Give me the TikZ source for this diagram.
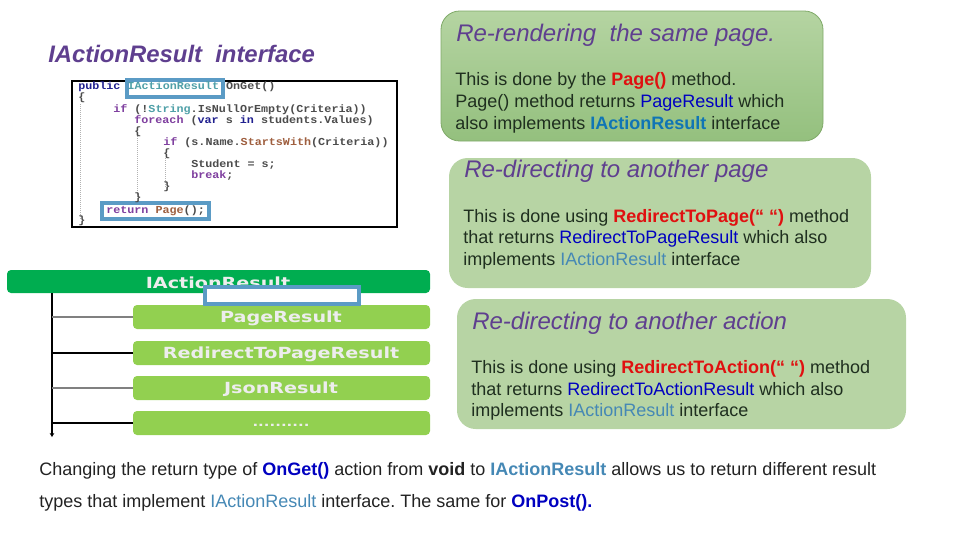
\documentclass[tikz,border=0pt]{standalone}
\usepackage{fontspec}
\setmainfont{Liberation Sans}
\setmonofont[FakeStretch=1.1]{Liberation Mono}
\newfontfamily\widefont[FakeStretch=1.25]{DejaVu Sans}
\usetikzlibrary{arrows.meta}
\definecolor{cardg}{HTML}{B7D4A4}
\definecolor{cardtop}{HTML}{B5D4A2}
\definecolor{cardbot}{HTML}{94C07E}
\definecolor{cardline}{HTML}{7FA968}
\definecolor{headc}{HTML}{5F3F8F}
\definecolor{bodyc}{HTML}{1F2F1F}
\definecolor{footc}{HTML}{222222}
\definecolor{mainc}{HTML}{00AD50}
\definecolor{subc}{HTML}{92D050}
\definecolor{frameb}{HTML}{5B9BC5}
\definecolor{redc}{HTML}{E01010}
\definecolor{bluec}{HTML}{0000C0}
\definecolor{tealc}{HTML}{1075B5}
\definecolor{teallt}{HTML}{4588B5}
\definecolor{codeb}{HTML}{20208F}
\definecolor{codet}{HTML}{4FA0A8}
\definecolor{codep}{HTML}{7F3F9F}
\definecolor{coder}{HTML}{9F5F3F}
\tikzset{
 px/.style={x=0.75pt,y=-0.75pt},
 head/.style={anchor=base west,inner sep=0pt,font=\fontsize{18}{18}\selectfont\itshape,text=headc},
 body/.style={anchor=base west,inner sep=0pt,font=\fontsize{13.5}{16}\selectfont,text=bodyc},
 foot/.style={anchor=base west,inner sep=0pt,font=\fontsize{13.5}{16}\selectfont,text=footc},
 mainbar/.style={fill=mainc,rounded corners=3pt,draw=none,anchor=north west,inner sep=0pt,outer sep=0pt,minimum width=423*0.75pt,minimum height=23*0.75pt},
 subbar/.style={fill=subc,rounded corners=3pt,draw=none,anchor=north west,inner sep=0pt,outer sep=0pt,minimum width=297*0.75pt,minimum height=24*0.75pt},
 barlab/.style={font=\widefont\bfseries\fontsize{11.5}{12}\selectfont,text=white!93!black,inner sep=0pt},
 code/.style={anchor=base west,inner sep=0pt,font=\ttfamily\bfseries\fontsize{8}{10}\selectfont,text=black!70},
 hl/.style={draw=frameb,line width=3pt,anchor=north west,inner sep=0pt,outer sep=0pt},
 stem/.style={line width=1.4pt,-{Stealth[length=3pt,width=3.5pt]}},
 twig/.style={line width=1.1pt},
 guide/.style={draw=gray!60,densely dotted,line width=0.5pt},
}
\newcommand{\kw}[1]{\textcolor{codeb}{#1}}
\newcommand{\ctl}[1]{\textcolor{codep}{#1}}
\begin{document}
\frenchspacing
\begin{tikzpicture}[px]
\useasboundingbox (0,0) rectangle (960,540);
% title
\node[anchor=base west,inner sep=0pt,font=\fontsize{17.9}{18}\selectfont\itshape\bfseries,text=headc] (title) at (48,62) {IActionResult\ \ interface};
% code image
\node[draw=black,line width=0.8pt,inner sep=0pt,outer sep=0pt,anchor=north west,minimum height=146*0.75pt,minimum width=325*0.75pt,fill=white] (codebox) at (72,81) {};
\node[hl,fill=white,minimum width=96*0.75pt,minimum height=17*0.75pt] (h1) at (127,80) {};
\node[hl,fill=white,minimum width=107*0.75pt,minimum height=16*0.75pt] (h2) at (102,203) {};
\draw[guide] (80,104) -- (80,220);
\draw[guide] (137,136) -- (137,198);
\draw[guide] (165,158) -- (165,187);
\node[code] (c1) at (78,89) {\kw{public} \textcolor{codet}{IActionResult} OnGet()};
\node[code] (c2) at (78,100) {\{};
\node[code] (c3) at (113,112) {\ctl{if} (!\textcolor{codet}{String}.IsNullOrEmpty(Criteria))};
\node[code] (c4) at (134,123) {\ctl{foreach} (\kw{var} s \kw{in} students.Values)};
\node[code] (c5) at (134,134) {\{};
\node[code] (c6) at (163,145) {\ctl{if} (s.Name.\textcolor{coder}{StartsWith}(Criteria))};
\node[code] (c7) at (163,156) {\{};
\node[code] (c8) at (191,167) {Student = s;};
\node[code] (c9) at (191,178) {\ctl{break};};
\node[code] (c10) at (163,189) {\}};
\node[code] (c11) at (134,200) {\}};
\node[code] (c12) at (106,213) {\ctl{return} \textcolor{coder}{Page}();};
\node[code] (c13) at (78,223) {\}};
% tree
\node[mainbar] (mb) at (7,270) {};
\coordinate (stemtop) at (52,293);
\coordinate (stemend) at (52,437);
\node[barlab] (mbl) at (218,283) {IActionResult};
\node[subbar] (b1) at (133,305) {};
\node[subbar] (b2) at (133,341) {};
\node[subbar] (b3) at (133,376) {};
\node[subbar] (b4) at (133,411) {};
\node[barlab] (b1l) at (281,318) {PageResult};
\node[barlab] (b2l) at (281,354) {RedirectToPageResult};
\node[barlab] (b3l) at (281,389) {JsonResult};
\node[barlab,font=\widefont\bfseries\fontsize{9}{10}\selectfont] (b4l) at (281,425) {..........};
\draw[stem] (stemtop) -- (stemend);
\draw[twig,draw=gray] (b1.west) -- (b1.west -| stemtop);
\draw[twig,draw=black] (b2.west) -- (b2.west -| stemtop);
\draw[twig,draw=gray] (b3.west) -- (b3.west -| stemtop);
\draw[twig,draw=black] (b4.west) -- (b4.west -| stemtop);
\node[hl,fill=white,minimum width=154*0.75pt,minimum height=17*0.75pt] (h3) at (205,287) {};
% cards
\shade[top color=cardtop,bottom color=cardbot,draw=cardline,line width=0.6pt,rounded corners=14pt] (441,11) rectangle (823,141);
\fill[cardg,rounded corners=14pt] (449,158) rectangle (871,288);
\fill[cardg,rounded corners=14pt] (457,299) rectangle (906,429);
% card 1
\node[head] (t1) at (456,41) {Re-rendering\ \ the same page.};
\node[body] (l11) at (455,85) {This is done by the \textcolor{redc}{\textbf{Page()}} method.};
\node[body] (l12) at (455,107) {Page() method returns \textcolor{bluec}{PageResult} which};
\node[body] (l13) at (455,129) {also implements \textcolor{tealc}{\textbf{IActionResult}} interface};
% card 2
\node[head] (t2) at (464,177) {Re-directing to another page};
\node[body] (l21) at (463,222) {This is done using \textcolor{redc}{\textbf{RedirectToPage(“ “)}} method};
\node[body] (l22) at (463,243) {that returns \textcolor{bluec}{RedirectToPageResult} which also};
\node[body] (l23) at (463,265) {implements \textcolor{teallt}{IActionResult} interface};
% card 3
\node[head] (t3) at (472,329) {Re-directing to another action};
\node[body] (l31) at (471,373) {This is done using \textcolor{redc}{\textbf{RedirectToAction(“ “)}} method};
\node[body] (l32) at (471,395) {that returns \textcolor{bluec}{RedirectToActionResult} which also};
\node[body] (l33) at (471,416) {implements \textcolor{teallt}{IActionResult} interface};
% footer
\node[foot] (f1) at (39,475) {Changing the return type of \textcolor{bluec}{\textbf{OnGet()}} action from \textbf{void} to \textcolor{teallt}{\textbf{IActionResult}} allows us to return different result};
\node[foot] (f2) at (39,507) {types that implement \textcolor{teallt}{IActionResult} interface. The same for \textcolor{bluec}{\textbf{OnPost().}}};
\end{tikzpicture}
\end{document}
